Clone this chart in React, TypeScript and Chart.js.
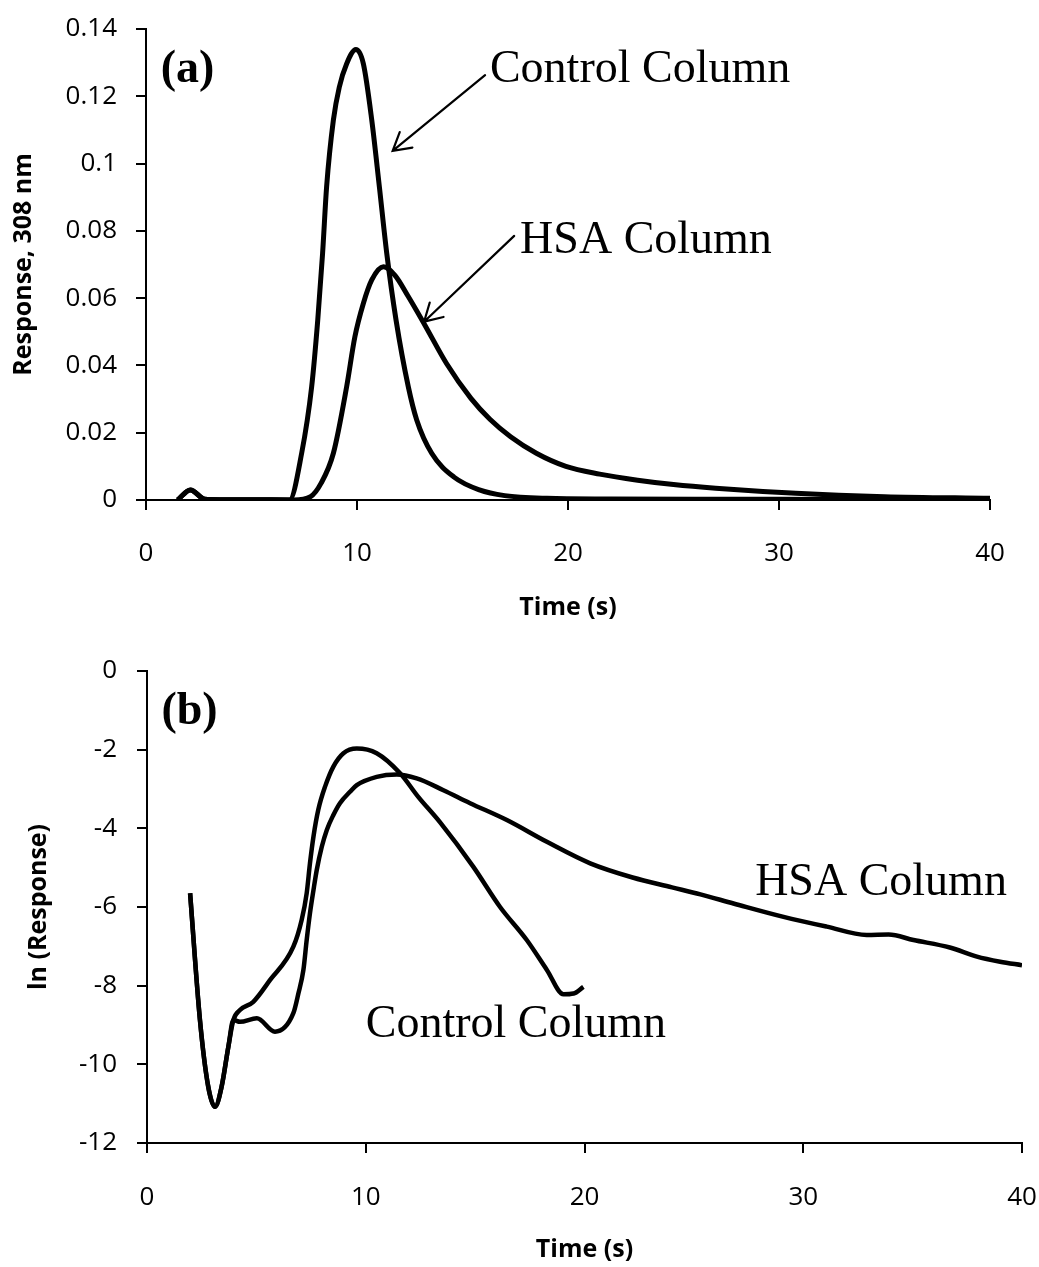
import React, { useEffect, useRef } from 'react';
import { Chart, registerables } from 'chart.js';

Chart.register(...registerables);

// ---------- Panel (a): Response at 308 nm ----------
const controlATime = [1.5, 2.1, 2.8, 3.5, 5, 6.8, 7.38, 7.85, 8.14, 8.37, 8.56, 8.88, 9.16, 9.51, 9.95, 10.3, 10.7, 11.06, 11.41, 11.85, 12.43, 12.83, 13.54, 14.6, 15.8, 17, 19, 22, 26, 30, 35, 40];
const controlAResp = [0, 0.003, 0.0002, 0.0001, 0.0001, 0, 0.014, 0.0336, 0.0535, 0.0734, 0.0931, 0.1129, 0.1227, 0.1297, 0.1339, 0.1297, 0.1129, 0.0931, 0.0733, 0.0535, 0.0337, 0.0238, 0.0139, 0.0068, 0.003, 0.0013, 0.0005, 0.0003, 0.0002, 0.0002, 0.0001, 0.0001];
const hsaATime = [1.5, 2.1, 2.8, 3.5, 5, 7, 7.8, 8.3, 8.88, 9.51, 9.9, 10.3, 10.7, 11.25, 11.8, 12.43, 13.2, 14.25, 15.4, 16.3, 17.28, 18.5, 19.9, 21.5, 23.3, 25, 27, 30.8, 35, 40];
const hsaAResp = [0, 0.003, 0.0002, 0.0001, 0.0001, 0, 0.001, 0.005, 0.0139, 0.0337, 0.0485, 0.0584, 0.0654, 0.0693, 0.0668, 0.0605, 0.0522, 0.0405, 0.0302, 0.024, 0.0188, 0.0139, 0.01, 0.0077, 0.0059, 0.0046, 0.0035, 0.002, 0.001, 0.0005];

// ---------- Panel (b): ln(Response) ----------
const controlBTime = [1.97, 2.42, 2.8, 3.11, 3.41, 3.72, 3.95, 4.25, 4.86, 5.62, 6.69, 7.07, 7.3, 7.45, 7.61, 7.83, 8.14, 8.52, 8.98, 9.59, 10.5, 11.57, 12.4, 13.4, 14.92, 16.14, 17.36, 18.28, 19.04, 19.5, 19.95];
const controlBLn = [-5.65, -8.87, -10.57, -11.08, -10.57, -9.55, -8.87, -8.62, -8.41, -7.86, -7.01, -6.33, -5.65, -4.89, -4.21, -3.53, -2.94, -2.43, -2.09, -1.97, -2.09, -2.6, -3.2, -3.85, -4.98, -6.0, -6.84, -7.6, -8.22, -8.2, -8.03];
const hsaBTime = [1.97, 2.42, 2.8, 3.11, 3.41, 3.72, 3.95, 4.25, 5.02, 5.85, 6.69, 6.92, 7.15, 7.3, 7.45, 7.61, 7.76, 7.99, 8.22, 8.52, 8.82, 9.28, 9.59, 10.5, 11.42, 12.33, 13.55, 14.77, 16.45, 18.3, 20.26, 22.2, 24.0, 25.3, 26.81, 29.1, 31.08, 32.9, 33.9, 35.04, 36.7, 37.94, 39.0, 40.0];
const hsaBLn = [-5.65, -8.87, -10.57, -11.08, -10.57, -9.55, -8.87, -8.92, -8.83, -9.17, -8.7, -8.2, -7.6, -6.84, -6.16, -5.57, -5.06, -4.47, -4.04, -3.66, -3.36, -3.07, -2.9, -2.69, -2.63, -2.73, -3.03, -3.36, -3.79, -4.35, -4.89, -5.25, -5.5, -5.68, -5.91, -6.25, -6.5, -6.71, -6.7, -6.84, -7.03, -7.26, -7.39, -7.48];

// ---------- Axis settings ----------
const xTicks = [0, 10, 20, 30, 40];
const yTicksA = [0, 0.02, 0.04, 0.06, 0.08, 0.1, 0.12, 0.14];
const yTicksB = [-12, -10, -8, -6, -4, -2, 0];
const xTitle = 'Time (s)';
const yTitleA = 'Response, 308 nm';
const yTitleB = 'ln (Response)';

// ---------- Annotations (data coordinates) ----------
const labelsA = [
  { text: '(a)', x: 0.7, y: 0.1278, bold: true, baseline: 'middle' },
  { text: 'Control Column', x: 16.3, y: 0.1242, bold: false, baseline: 'alphabetic' },
  { text: 'HSA Column', x: 17.73, y: 0.0735, bold: false, baseline: 'alphabetic' },
];
const arrowsA = [
  { fromX: 16.07, fromY: 0.1263, toX: 11.69, toY: 0.1038 },
  { fromX: 17.45, fromY: 0.0785, toX: 13.18, toY: 0.053 },
];
const labelsB = [
  { text: '(b)', x: 0.66, y: -1.04, bold: true, baseline: 'middle' },
  { text: 'HSA Column', x: 27.8, y: -5.7, bold: false, baseline: 'alphabetic' },
  { text: 'Control Column', x: 10.0, y: -9.3, bold: false, baseline: 'alphabetic' },
];
const arrowsB: any[] = [];

const zip = (xs: number[], ys: number[]) => xs.map((x, i) => ({ x, y: ys[i] }));

const makeAnnot = (labels: any[], arrows: any[]) => ({
  id: 'annot',
  afterDatasetsDraw(chart: any) {
    const { ctx } = chart;
    const sx = chart.scales.x;
    const sy = chart.scales.y;
    ctx.save();
    ctx.fillStyle = '#000';
    ctx.strokeStyle = '#000';
    labels.forEach((l) => {
      ctx.font = `${l.bold ? 'bold ' : ''}46px "Liberation Serif"`;
      ctx.textAlign = 'left';
      ctx.textBaseline = l.baseline;
      ctx.fillText(l.text, sx.getPixelForValue(l.x), sy.getPixelForValue(l.y));
    });
    ctx.lineWidth = 2.2;
    ctx.lineCap = 'round';
    arrows.forEach((a) => {
      const x1 = sx.getPixelForValue(a.fromX);
      const y1 = sy.getPixelForValue(a.fromY);
      const x2 = sx.getPixelForValue(a.toX);
      const y2 = sy.getPixelForValue(a.toY);
      ctx.beginPath();
      ctx.moveTo(x1, y1);
      ctx.lineTo(x2, y2);
      const ang = Math.atan2(y1 - y2, x1 - x2);
      const L = 20;
      const d = Math.PI / 6;
      ctx.moveTo(x2 + L * Math.cos(ang + d), y2 + L * Math.sin(ang + d));
      ctx.lineTo(x2, y2);
      ctx.lineTo(x2 + L * Math.cos(ang - d), y2 + L * Math.sin(ang - d));
      ctx.stroke();
    });
    ctx.restore();
  },
});

const tickFont = { family: '"Open Sans"', size: 26 };
const titleFont = { family: '"Open Sans"', size: 25, weight: 'bold' as const };

function makeConfig(opts: any) {
  const { datasets, yMin, yMax, yStep, yTicks, yTitle, plugin, pad, yWidth, xHeight, yPadTitle, xPadTitle, xLabelPad, yLabelPad, fmt, lineW } = opts;
  return {
    type: 'line',
    data: {
      datasets: datasets.map((d: any) => ({
        data: d,
        borderColor: '#000',
        borderWidth: lineW,
        pointRadius: 0,
        fill: false,
        cubicInterpolationMode: 'monotone',
      })),
    },
    options: {
      responsive: false,
      animation: false,
      events: [],
      layout: { padding: pad },
      plugins: { legend: { display: false }, tooltip: { enabled: false } },
      scales: {
        x: {
          type: 'linear',
          min: 0,
          max: 40,
          afterBuildTicks: (s: any) => { s.ticks = xTicks.map((v) => ({ value: v })); },
          afterFit: (s: any) => { s.height = xHeight; s.paddingLeft = 0; s.paddingRight = 0; },
          ticks: { font: tickFont, color: '#000', padding: xLabelPad, maxRotation: 0 },
          grid: { drawOnChartArea: false, drawTicks: true, tickLength: 10, color: '#000', lineWidth: 2 },
          border: { display: true, color: '#000', width: 2 },
          title: { display: true, text: xTitle, font: titleFont, color: '#000', padding: { top: 0, bottom: xPadTitle } },
        },
        y: {
          type: 'linear',
          min: yMin,
          max: yMax,
          afterBuildTicks: (s: any) => { s.ticks = yTicks.map((v: number) => ({ value: v })); },
          afterFit: (s: any) => { s.width = yWidth; s.paddingTop = 0; s.paddingBottom = 0; },
          ticks: { font: tickFont, color: '#000', padding: yLabelPad, callback: fmt, stepSize: yStep },
          grid: { drawOnChartArea: false, drawTicks: true, tickLength: 10, color: '#000', lineWidth: 2 },
          border: { display: true, color: '#000', width: 2 },
          title: { display: true, text: yTitle, font: titleFont, color: '#000', padding: { top: yPadTitle, bottom: 0 } },
        },
      },
    },
    plugins: [plugin],
  };
}

function ChartCanvas({ config, width, height }: any) {
  const ref = useRef<HTMLCanvasElement | null>(null);
  useEffect(() => {
    if (!ref.current) return;
    const chart = new Chart(ref.current, config);
    return () => chart.destroy();
  }, []);
  return <canvas ref={ref} width={width} height={height} style={{ display: 'block', width, height }} />;
}

export default function App() {
  const configA = makeConfig({
    datasets: [zip(controlATime, controlAResp), zip(hsaATime, hsaAResp)],
    yMin: 0, yMax: 0.14, yStep: 0.02, yTicks: yTicksA, yTitle: yTitleA,
    plugin: makeAnnot(labelsA, arrowsA),
    pad: { left: 0, right: 49, top: 29, bottom: 0 },
    yWidth: 146, xHeight: 133, yPadTitle: 9, xPadTitle: 10, xLabelPad: 28, yLabelPad: 19,
    fmt: (v: number) => String(Number(v.toFixed(2))),
    lineW: 5,
  });
  const configB = makeConfig({
    datasets: [zip(controlBTime, controlBLn), zip(hsaBTime, hsaBLn)],
    yMin: -12, yMax: 0, yStep: 2, yTicks: yTicksB, yTitle: yTitleB,
    plugin: makeAnnot(labelsB, arrowsB),
    pad: { left: 0, right: 17, top: 38, bottom: 0 },
    yWidth: 147, xHeight: 124, yPadTitle: 24, xPadTitle: 2, xLabelPad: 29, yLabelPad: 20,
    fmt: (v: number) => String(v),
    lineW: 4.5,
  });
  return (
    <div style={{ position: 'absolute', left: 0, top: 0, width: 1039, height: 1267, background: '#fff' }}>
      <ChartCanvas config={configA} width={1039} height={633} />
      <ChartCanvas config={configB} width={1039} height={634} />
    </div>
  );
}
